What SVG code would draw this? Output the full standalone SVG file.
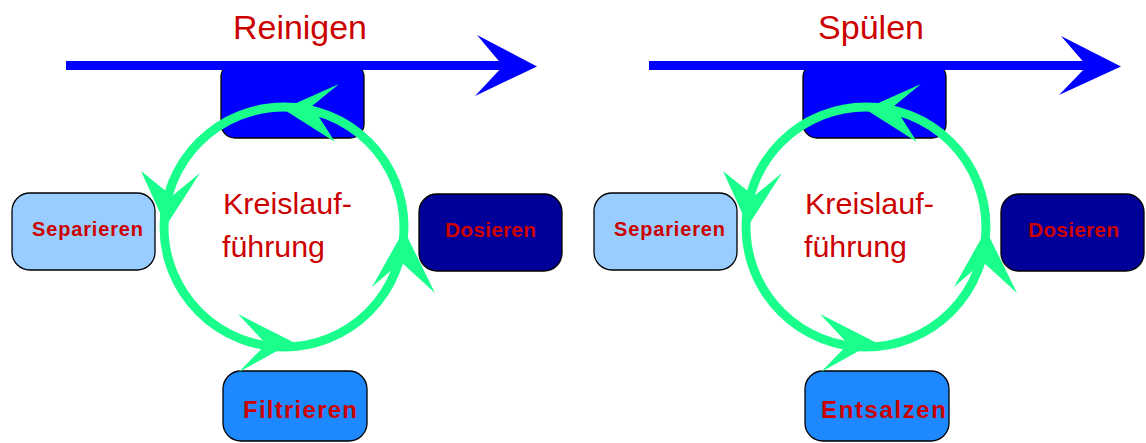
<svg xmlns="http://www.w3.org/2000/svg" xmlns:xlink="http://www.w3.org/1999/xlink" width="1146" height="443" viewBox="0 0 1146 443">
<style>
.title{font-family:"Liberation Sans",Arial,sans-serif;font-size:33px;fill:#cc0000}
.center{font-family:"Liberation Sans",Arial,sans-serif;font-size:30px;fill:#cc0000}
.lbl{font-family:"Liberation Sans",Arial,sans-serif;font-weight:bold;fill:#cc0000;text-anchor:middle}
.box{stroke:#000;stroke-width:1.3}
.flow{fill:#0000ff}
.ring{fill:none;stroke:#1aff8c;stroke-width:9}
.head{fill:#1aff8c}
</style>
<rect width="1146" height="443" fill="#fff"/>
<g id="panel-reinigen">
  <g id="node-top-1"><rect class="box" x="221" y="63" width="143" height="75" rx="14" fill="#0000ff"/></g>
  <g id="node-separieren-1"><rect class="box" x="12" y="193" width="143" height="77" rx="18" fill="#99ccff"/><text class="lbl" x="87.5" y="236" font-size="20" textLength="111" lengthAdjust="spacing">Separieren</text></g>
  <g id="node-dosieren-1"><rect class="box" x="419" y="194" width="143" height="77" rx="18" fill="#000099"/><text class="lbl" x="490.5" y="237" font-size="21" textLength="91" lengthAdjust="spacing">Dosieren</text></g>
  <g id="node-filtrieren-1"><rect class="box" x="223" y="371" width="144" height="70" rx="18" fill="#1e88ff"/><text class="lbl" x="300" y="418" font-size="24" textLength="114" lengthAdjust="spacing">Filtrieren</text></g>
  <g id="connectors-1">
    <rect class="flow" x="66" y="61" width="440" height="9"/>
    <polygon class="flow" points="477,35 537,66.5 475,96 503,66"/>
    <circle class="ring" cx="284" cy="227" r="120"/>
    <polygon class="head" points="283,109 339,84 312,106 335,142"/>
    <polygon class="head" points="166,226 141,171 172,196 200,173"/>
    <polygon class="head" points="293,342 238,314 266,344 239,372"/>
    <polygon class="head" points="404,230 372,287 401,262 435,293"/>
  </g>
  <text class="title" x="233" y="39" textLength="134" lengthAdjust="spacingAndGlyphs">Reinigen</text>
  <text class="center" x="223" y="214" textLength="129" lengthAdjust="spacingAndGlyphs">Kreislauf-</text>
  <text class="center" x="222" y="257" textLength="103" lengthAdjust="spacingAndGlyphs">führung</text>
</g>
<g id="panel-spuelen" transform="translate(582,0)">
  <g id="node-top-2"><rect class="box" x="221" y="63" width="143" height="75" rx="14" fill="#0000ff"/></g>
  <g id="node-separieren-2"><rect class="box" x="12" y="193" width="143" height="77" rx="18" fill="#99ccff"/><text class="lbl" x="87.5" y="236" font-size="20" textLength="111" lengthAdjust="spacing">Separieren</text></g>
  <g id="node-dosieren-2"><rect class="box" x="419" y="194" width="143" height="77" rx="18" fill="#000099"/><text class="lbl" x="491.5" y="237" font-size="21" textLength="91" lengthAdjust="spacing">Dosieren</text></g>
  <g id="node-entsalzen-2"><rect class="box" x="223" y="371" width="144" height="70" rx="18" fill="#1e88ff"/><text class="lbl" x="301.5" y="418" font-size="24" textLength="125" lengthAdjust="spacing">Entsalzen</text></g>
  <g id="connectors-2">
    <rect class="flow" x="67" y="61" width="440" height="9"/>
    <polygon class="flow" points="479,36 539,66.5 477,95 505,66"/>
    <circle class="ring" cx="284" cy="227" r="120"/>
    <polygon class="head" points="283,109 339,84 312,106 335,142"/>
    <polygon class="head" points="166,226 141,171 172,196 200,173"/>
    <polygon class="head" points="293,342 238,314 266,344 239,372"/>
    <polygon class="head" points="404,230 372,287 401,262 435,293"/>
  </g>
  <text class="title" x="236" y="39" textLength="106" lengthAdjust="spacingAndGlyphs">Spülen</text>
  <text class="center" x="223" y="214" textLength="129" lengthAdjust="spacingAndGlyphs">Kreislauf-</text>
  <text class="center" x="222" y="257" textLength="103" lengthAdjust="spacingAndGlyphs">führung</text>
</g>
</svg>
